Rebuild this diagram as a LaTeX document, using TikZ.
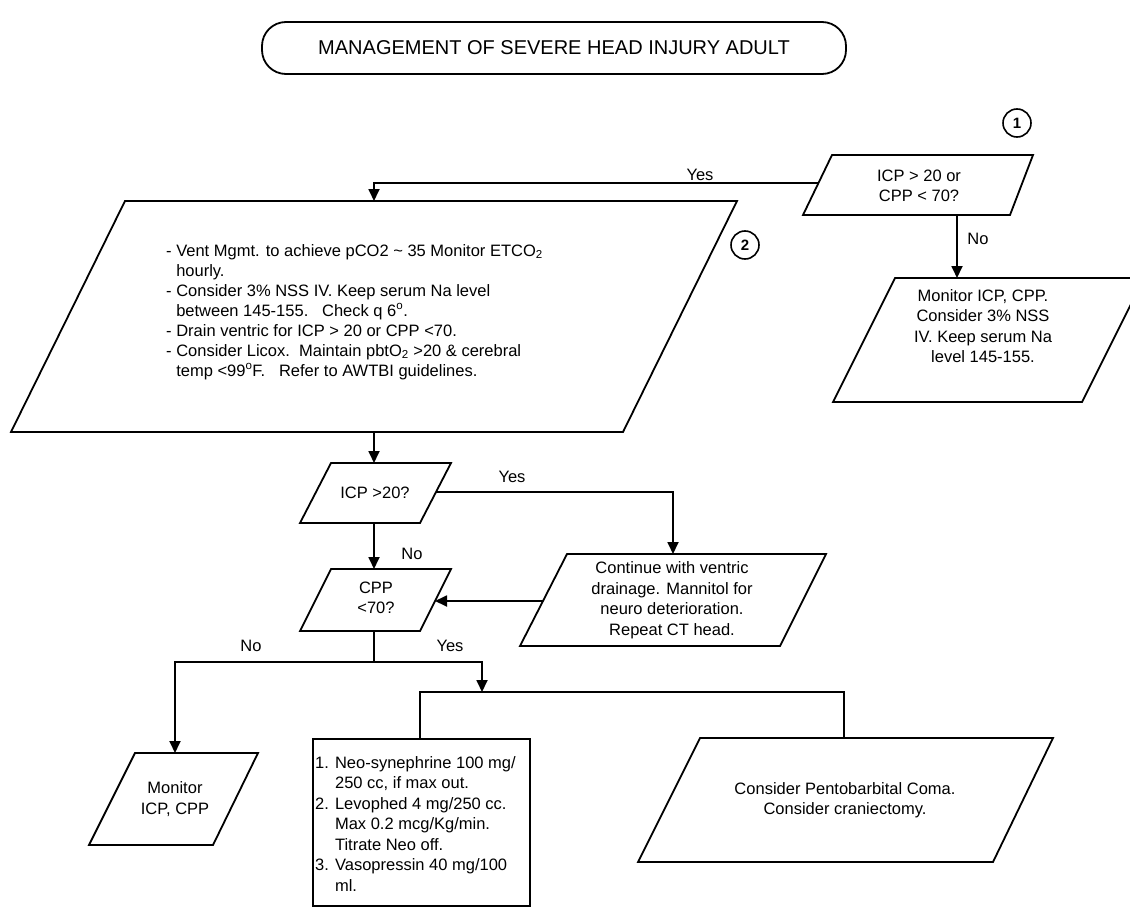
\documentclass[tikz,border=0pt]{standalone}
\usepackage{fontspec}
\setmainfont{Liberation Sans}
\usetikzlibrary{arrows.meta}
\begin{document}
\begin{tikzpicture}[x=1pt,y=-1pt,
  boxline/.style={draw, line width=1.8pt, line join=miter},
  conn/.style={line width=1.8pt},
  arr/.style={conn, -{Triangle[length=12pt,width=11pt]}},
  txt/.style={font=\fontsize{16.5}{20.5}\selectfont, align=center, inner sep=0pt},
  ltxt/.style={font=\fontsize{16.5}{20.5}\selectfont, align=left, inner sep=0pt},
  lbl/.style={font=\fontsize{16.5}{20}\selectfont, inner sep=0pt},
  num/.style={draw, circle, line width=1.6pt, minimum size=28pt, inner sep=0pt, font=\fontsize{15}{15}\selectfont\bfseries}]
\useasboundingbox (0,0) rectangle (1130,907);
\fill[white] (0,0) rectangle (1130,907);

% title
\draw[boxline, rounded corners=24pt] (262,22) rectangle (846,74);
\node[font=\fontsize{20}{24}\selectfont, inner sep=0pt] (title) at (554,48) {MANAGEMENT OF SEVERE HEAD INJURY ADULT};

% step numbers
\node[num] (n1) at (1017,123) {1};
\node[num] (n2) at (745,245) {2};

% decision 1
\draw[boxline] (832,155) -- (1033,155) -- (1010,215) -- (803,215) -- cycle;
\node[txt] (d1) at (919,186) {ICP > 20 or\\CPP < 70?};

% monitor (right)
\draw[boxline] (895,278) -- (1144,278) -- (1082,402) -- (833,402) -- cycle;
\node[txt] (m1) at (983,326) {Monitor ICP, CPP.\\Consider 3\% NSS\\IV. Keep serum Na\\level 145-155.};

% big box
\draw[boxline] (125,201) -- (737,201) -- (623,432) -- (11,432) -- cycle;
\node[ltxt, font=\fontsize{16.5}{20}\selectfont, anchor=west] (big) at (166,312) {- Vent Mgmt. to achieve pCO2 \textasciitilde{} 35 Monitor ETCO\textsubscript{2}\\
\hphantom{- }hourly.\\
- Consider 3\% NSS IV. Keep serum Na level\\
\hphantom{- }between 145-155.\ \ \ Check q 6\textsuperscript{o}.\\
- Drain ventric for ICP > 20 or CPP <70.\\
- Consider Licox.\ \ Maintain pbtO\textsubscript{2} >20 \& cerebral\\
\hphantom{- }temp <99\textsuperscript{o}F.\ \ \ Refer to AWTBI guidelines.};

% decision 2
\draw[boxline] (331,463) -- (451,463) -- (420,523) -- (300,523) -- cycle;
\node[txt] (d2) at (375,493) {ICP >20?};

% decision 3
\draw[boxline] (331,569) -- (451,569) -- (420,631) -- (300,631) -- cycle;
\node[txt] (d3) at (376,598) {CPP\\<70?};

% continue
\draw[boxline] (567,554) -- (826,554) -- (780,646) -- (520,646) -- cycle;
\node[txt] (cont) at (672,600) {Continue with ventric\\drainage. Mannitol for\\neuro deterioration.\\Repeat CT head.};

% monitor (left)
\draw[boxline] (135,753) -- (258,753) -- (213,845) -- (89,845) -- cycle;
\node[txt] (m2) at (175,799) {Monitor\\ICP, CPP};

% drugs rectangle
\draw[boxline] (313,739) rectangle (530,906);
\node[ltxt, anchor=west] (drugs) at (315,824) {1. Neo-synephrine 100 mg/\\
\hphantom{1. }250 cc, if max out.\\
2. Levophed 4 mg/250 cc.\\
\hphantom{2. }Max 0.2 mcg/Kg/min.\\
\hphantom{2. }Titrate Neo off.\\
3. Vasopressin 40 mg/100\\
\hphantom{3. }ml.};

% pentobarbital
\draw[boxline] (700,738) -- (1053,738) -- (993,862) -- (638,862) -- cycle;
\node[txt] (pento) at (845,800) {Consider Pentobarbital Coma.\\Consider craniectomy.};

% connection points
\coordinate (d1w) at (818.5,183);
\coordinate (bigN) at (374,201);
\coordinate (d1s) at (957,215);
\coordinate (m1n) at (957,278);
\coordinate (bigS) at (374,432);
\coordinate (d2n) at (374,463);
\coordinate (d2e) at (436,492);
\coordinate (contN) at (673,554);
\coordinate (d2s) at (374,523);
\coordinate (d3n) at (374,569);
\coordinate (contW) at (543,601);
\coordinate (d3e) at (435,601);
\coordinate (d3s) at (374,631);
\coordinate (br) at (374,662);
\coordinate (m2n) at (175,753);
\coordinate (split) at (482,692);
\coordinate (drugsN) at (420,739);
\coordinate (pentoN) at (844,738);

% connectors
\draw[arr] (d1w) -| (bigN);
\draw[arr] (d1s) -- (m1n);
\draw[arr] (bigS) -- (d2n);
\draw[arr] (d2e) -| (contN);
\draw[arr] (d2s) -- (d3n);
\draw[arr] (contW) -- (d3e);
\draw[conn] (d3s) -- (br);
\draw[arr] (br) -| (m2n);
\draw[arr] (br) -| (split);
\draw[conn] (drugsN) |- (split) -| (pentoN);

% labels
\node[lbl] (y1) at (700,175) {Yes};
\node[lbl] (no1) at (978,239) {No};
\node[lbl] (y2) at (512,477) {Yes};
\node[lbl] (no2) at (412,554) {No};
\node[lbl] (no3) at (251,646) {No};
\node[lbl] (y3) at (450,646) {Yes};
\end{tikzpicture}
\end{document}
